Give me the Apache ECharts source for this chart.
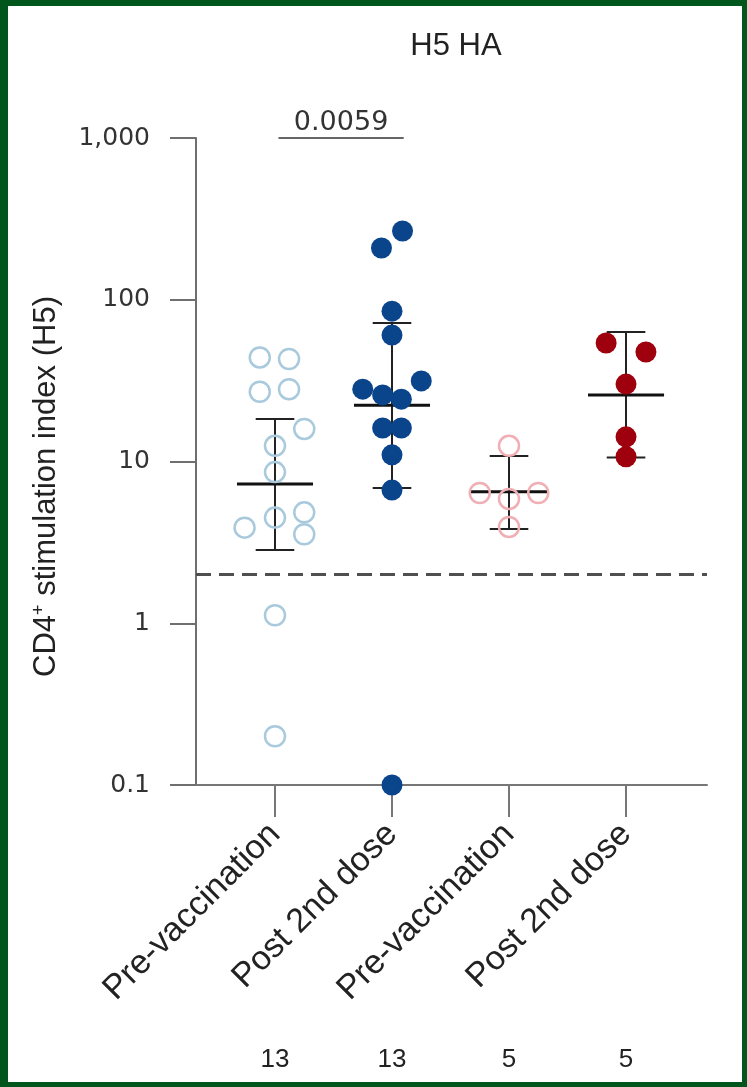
<!DOCTYPE html>
<html><head><meta charset="utf-8">
<script src="https://cdn.jsdelivr.net/npm/echarts@6/dist/echarts.min.js"></script>
<style>
html,body{margin:0;padding:0;background:#fff;}
#c{position:absolute;left:0;top:0;width:747px;height:1087px;}
#frame{position:absolute;left:0;top:0;width:747px;height:1087px;box-sizing:border-box;border-style:solid;border-color:#00561b;border-width:6px 5px 5px 8px;pointer-events:none;}
</style>
</head><body><div id="c"></div><div id="frame"></div>
<script>
// ---- data ----
const categories = ['Pre-vaccination', 'Post 2nd dose', 'Pre-vaccination', 'Post 2nd dose'];
const counts = ['13', '13', '5', '5'];
const yTickLabels = ['0.1', '1', '10', '100', '1,000'];
const titleText = 'H5 HA';
const yName = 'CD4{sup|+} stimulation index (H5)';

const g1Values = [44, 43, 27, 28, 15.9, 12.5, 8.6, 3.9, 4.5, 4.85, 3.55, 1.12, 0.2];
const g1Jitter = [-0.13, 0.12, -0.13, 0.12, 0.25, 0, 0, -0.26, 0, 0.25, 0.25, 0, 0];
const g2Values = [209, 266, 85, 60.5, 28, 31.5, 25.8, 24.3, 16.1, 16.1, 11, 6.66, 0.1];
const g2Jitter = [-0.09, 0.09, 0, 0, -0.25, 0.25, -0.08, 0.08, -0.08, 0.08, 0, 0, 0];
const g3Values = [12.5, 6.39, 5.87, 6.39, 3.94];
const g3Jitter = [0, -0.25, 0, 0.25, 0];
const g4Values = [54, 47.5, 30.1, 14.2, 10.7];
const g4Jitter = [-0.17, 0.17, 0, 0, 0];

const medians = [7.26, 22.3, 6.5, 25.8];
const lowerBar = [2.84, 6.86, 3.83, 10.6];
const upperBar = [18.3, 71.8, 10.8, 63.2];

const threshold = 2;
const pValue = '0.0059';
const bracketFrom = 0.03, bracketTo = 1.1, bracketAt = 1000;

// ---- chart ----
const font = 'Liberation Sans, Arial, sans-serif';
const tickFont = 'DejaVu Sans, sans-serif';
const xMin = -0.675, xMax = 3.692;

function pts(vals, jit, g) { return vals.map((v, i) => [g + jit[i], v]); }

const chart = echarts.init(document.getElementById('c'), null, {renderer: 'canvas'});
chart.setOption({
  animation: false,
  backgroundColor: '#fff',
  title: {
    text: titleText, left: 451, top: 26, textAlign: 'center',
    textStyle: {fontFamily: font, fontSize: 31, fontWeight: 'normal', color: '#222'}
  },
  grid: {left: 196, right: 40, top: 138, bottom: 302, containLabel: false},
  xAxis: [{
    type: 'value', min: xMin, max: xMax, position: 'bottom',
    splitLine: {show: false},
    axisLine: {show: true, onZero: false, lineStyle: {color: '#777', width: 2}},
    axisTick: {show: true, customValues: [0, 1, 2, 3], length: 32, lineStyle: {color: '#777', width: 2}},
    axisLabel: {
      customValues: [0, 1, 2, 3], rotate: 45, margin: 44,
      fontFamily: font, fontSize: 34, color: '#222',
      formatter: v => categories[Math.round(v)]
    }
  }, {
    type: 'value', min: xMin, max: xMax, position: 'bottom', offset: 262,
    splitLine: {show: false},
    axisLine: {show: false, onZero: false}, axisTick: {show: false},
    axisLabel: {
      customValues: [0, 1, 2, 3], margin: 0,
      fontFamily: font, fontSize: 26, color: '#222',
      formatter: v => counts[Math.round(v)]
    }
  }],
  yAxis: {
    type: 'log', logBase: 10, min: 0.1, max: 1000,
    name: yName, nameLocation: 'middle', nameGap: 134,
    nameTextStyle: {
      fontFamily: font, fontSize: 31, color: '#222', padding: [0, 50, 0, 0],
      rich: {sup: {fontFamily: font, fontSize: 18, color: '#222', verticalAlign: 'top', padding: [0, 0, 14, 0]}}
    },
    splitLine: {show: false},
    axisLine: {show: true, onZero: false, lineStyle: {color: '#6f6f6f', width: 2}},
    axisTick: {show: true, length: 26, lineStyle: {color: '#6f6f6f', width: 2}},
    axisLabel: {
      margin: 46, fontFamily: tickFont, fontSize: 25, color: '#333',
      formatter: v => yTickLabels[Math.round(Math.log10(v)) + 1]
    }
  },
  series: [
    {
      type: 'custom', z: 1, xAxisIndex: 0,
      data: medians.map((m, i) => [i, m, lowerBar[i], upperBar[i]]),
      encode: {x: 0, y: 1},
      renderItem(params, api) {
        const i = api.value(0);
        const med = api.value(1), lo = api.value(2), hi = api.value(3);
        const mL = api.coord([i - 0.325, med]), mR = api.coord([i + 0.325, med]);
        const pLo = api.coord([i, lo]), pHi = api.coord([i, hi]);
        const cL = api.coord([i - 0.165, lo]), cR = api.coord([i + 0.165, lo]);
        const tL = api.coord([i - 0.165, hi]), tR = api.coord([i + 0.165, hi]);
        const st = {stroke: '#222', lineWidth: 2};
        return {type: 'group', children: [
          {type: 'line', shape: {x1: pLo[0], y1: pLo[1], x2: pHi[0], y2: pHi[1]}, style: st},
          {type: 'line', shape: {x1: cL[0], y1: cL[1], x2: cR[0], y2: cR[1]}, style: st},
          {type: 'line', shape: {x1: tL[0], y1: tL[1], x2: tR[0], y2: tR[1]}, style: st},
          {type: 'line', shape: {x1: mL[0], y1: mL[1], x2: mR[0], y2: mR[1]}, style: {stroke: '#111', lineWidth: 3}}
        ]};
      }
    },
    {
      type: 'scatter', z: 3, symbol: 'circle', symbolSize: 20,
      data: pts(g1Values, g1Jitter, 0),
      itemStyle: {color: 'rgba(255,255,255,0)', borderColor: '#a9cadd', borderWidth: 2.5, opacity: 1},
      markLine: {
        silent: true, symbol: 'none',
        lineStyle: {color: '#4f4f4f', width: 2.8, type: [15, 8]},
        label: {show: false},
        data: [{yAxis: threshold}]
      }
    },
    {
      type: 'scatter', z: 3, symbol: 'circle', symbolSize: 21,
      data: pts(g2Values, g2Jitter, 1),
      itemStyle: {color: '#0a458c', opacity: 1},
      markLine: {
        silent: true, symbol: 'none',
        lineStyle: {color: '#666', width: 1.8, type: 'solid'},
        label: {show: true, position: 'middle', formatter: pValue, distance: 2,
                fontFamily: tickFont, fontSize: 27, color: '#333'},
        data: [[{coord: [bracketFrom, bracketAt]}, {coord: [bracketTo, bracketAt]}]]
      }
    },
    {
      type: 'scatter', z: 3, symbol: 'circle', symbolSize: 20,
      data: pts(g3Values, g3Jitter, 2),
      itemStyle: {color: 'rgba(255,255,255,0)', borderColor: '#efafb5', borderWidth: 2.5, opacity: 1}
    },
    {
      type: 'scatter', z: 3, symbol: 'circle', symbolSize: 21,
      data: pts(g4Values, g4Jitter, 3),
      itemStyle: {color: '#9e000e', opacity: 1}
    }
  ]
});
</script>
</body></html>
